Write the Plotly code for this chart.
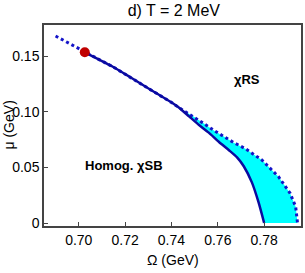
import plotly.graph_objects as go

# Solid phase boundary (from red point down to mu = 0)
solid_omega = [0.7026, 0.7090, 0.7147, 0.7219, 0.7261, 0.7333, 0.7404, 0.7433,
               0.7476, 0.7519, 0.7561, 0.7604, 0.7647, 0.7683, 0.7712, 0.7747,
               0.7776, 0.7800]
solid_mu = [0.1534, 0.1466, 0.1404, 0.1314, 0.1260, 0.1168, 0.1078, 0.1036,
            0.0958, 0.0880, 0.0812, 0.0730, 0.0656, 0.0590, 0.0510, 0.0365,
            0.0185, 0.0]

# Dotted boundary: upper part, shared part, and outer branch
dot_upper_omega = [0.6900, 0.6963, 0.7026]
dot_upper_mu = [0.1680, 0.1608, 0.1534]
dot_branch_omega = [0.7433, 0.7497, 0.7540, 0.7583, 0.7626, 0.7669, 0.7719,
                    0.7790, 0.7862, 0.7912, 0.7936, 0.7944]
dot_branch_mu = [0.1036, 0.0955, 0.0893, 0.0832, 0.0778, 0.0722, 0.0668,
                 0.0566, 0.0416, 0.0267, 0.0146, 0.0]

# Special point
point_omega = [0.7026]
point_mu = [0.1534]

x_ticks = [0.70, 0.72, 0.74, 0.76, 0.78]
x_ticklabels = ["0.70", "0.72", "0.74", "0.76", "0.78"]
y_ticks = [0.0, 0.05, 0.10, 0.15]
y_ticklabels = ["0", "0.05", "0.10", "0.15"]

FONT = "Liberation Sans, Arial, sans-serif"

i0 = solid_omega.index(dot_branch_omega[0])
fill_x = dot_branch_omega + solid_omega[i0:][::-1]
fill_y = dot_branch_mu + solid_mu[i0:][::-1]

dot_full_x = dot_upper_omega + solid_omega[1:i0] + dot_branch_omega
dot_full_y = dot_upper_mu + solid_mu[1:i0] + dot_branch_mu

fig = go.Figure()
fig.add_trace(go.Scatter(x=fill_x, y=fill_y, fill="toself", fillcolor="#00FFFF",
                         mode="none", hoverinfo="skip", showlegend=False))
fig.add_trace(go.Scatter(x=dot_full_x, y=dot_full_y, mode="lines",
                         line=dict(color="#1414C8", width=3, dash="3px,3px"),
                         showlegend=False))
fig.add_trace(go.Scatter(x=solid_omega, y=solid_mu, mode="lines",
                         line=dict(color="#0A0AA0", width=2.5, shape="spline",
                                   smoothing=0.6),
                         showlegend=False))
fig.add_trace(go.Scatter(x=point_omega, y=point_mu, mode="markers",
                         marker=dict(color="#C00000", size=10),
                         showlegend=False))

fig.add_annotation(x=0.7724, y=0.1285, text="<b>χRS</b>", showarrow=False,
                   font=dict(family=FONT, size=13, color="black"))
fig.add_annotation(x=0.7197, y=0.0521, text="<b>Homog. χSB</b>", showarrow=False,
                   font=dict(family=FONT, size=13, color="black"))

# Axis titles
fig.add_annotation(xref="paper", yref="paper", x=0, y=0.5, xshift=-36,
                   text="μ (GeV)", textangle=-90, showarrow=False,
                   xanchor="center", yanchor="middle",
                   font=dict(family=FONT, size=14, color="black"))
fig.add_annotation(xref="paper", yref="paper", x=0.5, y=0, yshift=-34,
                   text="Ω (GeV)", showarrow=False,
                   xanchor="center", yanchor="middle",
                   font=dict(family=FONT, size=14, color="black"))

fig.update_layout(
    width=305, height=273,
    margin=dict(l=44, r=2, t=25, b=47),
    plot_bgcolor="white", paper_bgcolor="white",
    font=dict(family=FONT, size=14, color="black"),
    title=dict(text="d) T = 2 MeV", x=0.57, xanchor="center", y=0.963,
               yanchor="middle", font=dict(size=16)),
    showlegend=False,
)
fig.update_xaxes(range=[0.6850, 0.7959], tickvals=x_ticks, ticktext=x_ticklabels,
                 showgrid=False, zeroline=False, showline=True, linecolor="#444",
                 linewidth=1.5, mirror=True, ticks="inside", ticklen=4,
                 tickcolor="#444", tickfont=dict(size=14))
fig.update_yaxes(range=[-0.0027, 0.1779], tickvals=y_ticks, ticktext=y_ticklabels,
                 showgrid=False, zeroline=False, showline=True, linecolor="#444",
                 linewidth=1.5, mirror=True, ticks="inside", ticklen=4,
                 tickcolor="#444", tickfont=dict(size=14), ticklabelstandoff=0)

fig.write_html("out.html", config={"displayModeBar": False},
               post_script="document.body.style.margin='0';document.body.style.overflow='hidden';")
